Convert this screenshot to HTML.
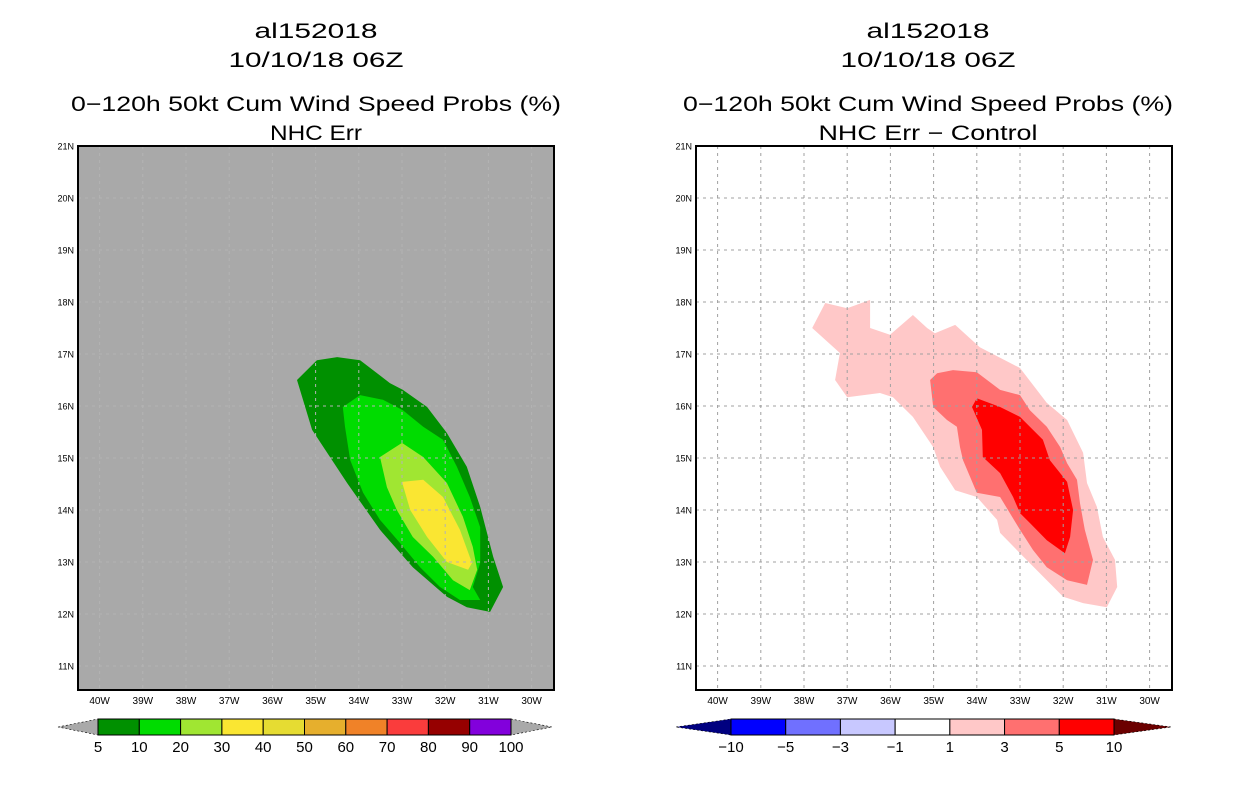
<!DOCTYPE html>
<html><head><meta charset="utf-8">
<style>
body{margin:0;background:#fff;width:1236px;height:800px;overflow:hidden;font-family:"Liberation Sans",sans-serif}
svg{position:absolute;left:0;top:0}
</style></head>
<body>
<svg id="svg" width="1236" height="800" xmlns="http://www.w3.org/2000/svg"></svg>
<script>
// ---- data (lon in degrees W, lat in degrees N) ----
const lonTicks=[40,39,38,37,36,35,34,33,32,31,30];
const latTicks=[21,20,19,18,17,16,15,14,13,12,11];
const leftLevels=["5","10","20","30","40","50","60","70","80","90","100"];
const leftColors=["#009000","#00dc00","#a0e632","#fae632","#e6dc32","#e6af2d","#f08228","#fa3c3c","#960000","#8200dc"];
const rightLevels=["-10","-5","-3","-1","1","3","5","10"];
const rightColors=["#0000ff","#7070ff","#c8c8ff","#ffffff","#ffc8c8","#ff7070","#ff0000"];
const prob5=[[35.43,16.5],[35.08,15.54],[34.27,14.52],[33.51,13.62],[32.75,12.9],[31.96,12.33],[31.5,12.13],[30.96,12.04],[30.66,12.52],[30.89,13.1],[31.19,14.06],[31.5,14.83],[31.96,15.48],[32.42,15.98],[32.98,16.31],[33.28,16.44],[33.97,16.88],[34.5,16.94],[34.97,16.88]];
const prob10=[[34.37,15.98],[33.97,16.21],[33.44,16.12],[32.98,15.92],[32.51,15.6],[32.05,15.35],[31.73,14.83],[31.43,14.25],[31.19,13.67],[31.19,12.98],[31.36,12.52],[31.19,12.27],[31.66,12.27],[32.12,12.52],[32.58,12.9],[33.05,13.37],[33.51,13.81],[33.9,14.33],[34.2,14.96],[34.32,15.6]];
const prob20=[[33.51,15.02],[33.0,15.29],[32.51,15.02],[31.96,14.52],[31.59,13.87],[31.36,13.29],[31.26,12.85],[31.43,12.46],[31.82,12.65],[32.28,13.1],[32.75,13.48],[33.12,14.0],[33.35,14.44]];
const prob30=[[33.0,14.54],[32.51,14.58],[32.05,14.25],[31.66,13.62],[31.38,12.98],[31.47,12.85],[31.96,13.0],[32.42,13.48],[32.81,14.0]];
const diff1=[[37.81,17.5],[37.51,17.98],[37.0,17.88],[36.47,18.04],[36.47,17.5],[36.01,17.37],[35.48,17.75],[35.15,17.5],[34.97,17.4],[34.5,17.56],[33.93,17.13],[33.0,16.73],[32.38,16.06],[31.91,15.73],[31.54,15.1],[31.45,14.52],[31.22,14.06],[31.08,13.48],[30.8,13.04],[30.75,12.52],[30.99,12.13],[31.54,12.21],[32.0,12.33],[32.38,12.65],[33.0,13.17],[33.46,13.56],[33.53,13.81],[34.0,14.25],[34.5,14.38],[34.85,14.83],[35.01,15.21],[35.48,15.79],[35.94,16.17],[36.24,16.25],[37.0,16.17],[37.28,16.5],[37.17,17.02]];
const diff3=[[35.08,16.5],[34.92,16.63],[34.55,16.69],[34.0,16.65],[33.46,16.31],[33.0,16.21],[32.77,15.92],[32.38,15.6],[32.07,15.21],[31.91,14.9],[31.68,14.58],[31.61,14.13],[31.5,13.62],[31.31,13.04],[31.45,12.56],[31.91,12.65],[32.38,12.9],[32.7,13.23],[33.0,13.62],[33.46,14.25],[34.0,14.33],[34.32,14.96],[34.39,15.21],[34.46,15.6],[34.69,15.73],[35.01,15.98]];
const diff5=[[34.11,15.98],[34.0,16.15],[33.46,15.98],[33.0,15.79],[32.7,15.54],[32.47,15.35],[32.31,14.96],[31.91,14.54],[31.77,14.0],[31.84,13.48],[31.96,13.17],[32.38,13.42],[32.77,13.75],[33.0,13.94],[33.16,14.25],[33.46,14.71],[33.86,15.02],[33.88,15.54]];

const NS="http://www.w3.org/2000/svg";
const svg=document.getElementById('svg');
function mk(tag,attrs,parent){const e=document.createElementNS(NS,tag);for(const k in attrs)e.setAttribute(k,attrs[k]);(parent||svg).appendChild(e);return e;}
const W=476,H=544,TOP=146;
function xs(x0){return lon=>x0+(40.5-lon)*43.2;}
function ys(lat){return TOP+(21-lat)*52;}

function panel(x0,bg,gridCol,polys,titles,lens,cx,name){
  const g=mk('g',{});
  
  
  const X=xs(x0);
  const r=mk('rect',{x:x0,y:TOP,width:W,height:H,fill:bg},g);
  
  
  polys.forEach(p=>{
    const pl=mk('polygon',{points:p.pts.map(q=>X(q[0]).toFixed(1)+','+ys(q[1]).toFixed(1)).join(' '),fill:p.col},g);
    
    
  });
  lonTicks.forEach(l=>{
    const ln=mk('line',{x1:X(l),x2:X(l),y1:TOP,y2:TOP+H,stroke:gridCol,'stroke-width':1,'stroke-dasharray':'3,4'},g);
    
    
    const t=mk('text',{x:X(l),y:704,'font-size':10,'text-anchor':'middle',fill:'#000'},g);
    t.textContent=l+'W';
    
    
  });
  latTicks.forEach(l=>{
    const ln=mk('line',{x1:x0,x2:x0+W,y1:ys(l),y2:ys(l),stroke:gridCol,'stroke-width':1,'stroke-dasharray':'3,4'},g);
    
    
    const t=mk('text',{x:x0-4,y:ys(l)+3.5,'font-size':9,'text-anchor':'end',fill:'#000'},g);
    t.textContent=l+'N';
    
    
  });
  const fr=mk('rect',{x:x0,y:TOP,width:W,height:H,fill:'none',stroke:'#000','stroke-width':2},g);
  
  
  const ty=[38,67,111,140];
  titles.forEach((s,i)=>{
    const t=mk('text',{x:cx,y:ty[i],'font-size':21,'text-anchor':'middle',fill:'#000',textLength:lens[i],lengthAdjust:'spacingAndGlyphs'},g);
    t.textContent=s;
    
    
  });
}
function colorbar(x0,x1,tl,tr,cols,labels,lcol,rcol,name){
  const g=mk('g',{});
  
  
  const y0=719,y1=735,ym=727,n=cols.length,w=(x1-x0)/n;
  const a=mk('polygon',{points:`${tl},${ym} ${x0},${y0} ${x0},${y1}`,fill:lcol,stroke:'#000','stroke-width':0.6,'stroke-dasharray':'2,2'},g);
  
  
  const b=mk('polygon',{points:`${tr},${ym} ${x1},${y0} ${x1},${y1}`,fill:rcol,stroke:'#000','stroke-width':0.6,'stroke-dasharray':'2,2'},g);
  
  
  cols.forEach((c,i)=>{
    const r=mk('rect',{x:x0+i*w,y:y0,width:w,height:y1-y0,fill:c,stroke:'#000','stroke-width':1},g);
    
    
  });
  labels.forEach((s,i)=>{
    const t=mk('text',{x:x0+i*w,y:752,'font-size':15,'text-anchor':'middle',fill:'#000'},g);
    t.textContent=s.replace('-','\u2212');
    
    
  });
}
panel(78,'#a9a9a9','#b4b4b4',[
  {pts:prob5,col:leftColors[0],name:'contour-5-10'},
  {pts:prob10,col:leftColors[1],name:'contour-10-20'},
  {pts:prob20,col:leftColors[2],name:'contour-20-30'},
  {pts:prob30,col:leftColors[3],name:'contour-30-40'}],
  ['al152018','10/10/18 06Z','0\u2212120h 50kt Cum Wind Speed Probs (%)','NHC Err'],[123,175,490,92],316,'left-panel');
panel(696,'#ffffff','#a0a0a0',[
  {pts:diff1,col:rightColors[4],name:'contour-1-3'},
  {pts:diff3,col:rightColors[5],name:'contour-3-5'},
  {pts:diff5,col:rightColors[6],name:'contour-5-10'}],
  ['al152018','10/10/18 06Z','0\u2212120h 50kt Cum Wind Speed Probs (%)','NHC Err \u2212 Control'],[123,175,490,219],928,'right-panel');
colorbar(98,511,58,552,leftColors,leftLevels,'#a9a9a9','#a9a9a9','left-colorbar');
colorbar(731,1114,676,1171,rightColors,rightLevels,'#000080','#6b0000','right-colorbar');
</script>
</body></html>
